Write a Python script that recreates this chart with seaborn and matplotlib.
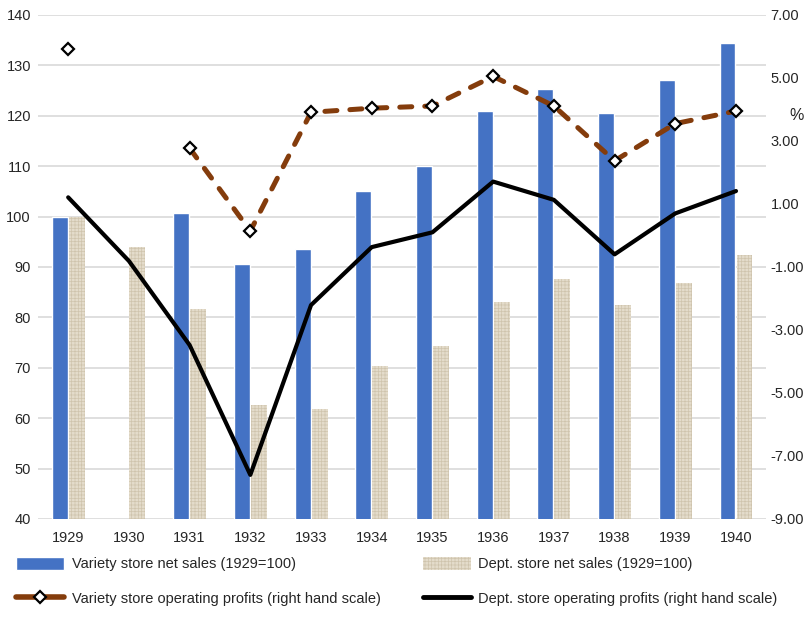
import matplotlib.pyplot as plt
import matplotlib.lines as mlines
import matplotlib.patches as mpatches
import pandas as pd
import seaborn as sns
import numpy as np

years = ["1929", "1930", "1931", "1932", "1933", "1934", "1935", "1936", "1937", "1938", "1939", "1940"]
variety_sales = [100.0, np.nan, 100.7, 90.6, 93.5, 105.1, 110.1, 121.0, 125.3, 120.5, 127.0, 134.4]
dept_sales = [100.0, 94.0, 81.7, 62.6, 61.8, 70.4, 74.3, 83.0, 87.7, 82.5, 86.8, 92.4]
variety_profits = [5.92, np.nan, 2.77, 0.14, 3.91, 4.04, 4.11, 5.05, 4.11, 2.37, 3.55, 3.95]
dept_profits = [1.21, -0.81, -3.48, -7.60, -2.21, -0.37, 0.10, 1.71, 1.13, -0.60, 0.70, 1.41]

lab_vs = "Variety store net sales (1929=100)"
lab_ds = "Dept. store net sales (1929=100)"
lab_vp = "Variety store operating profits (right hand scale)"
lab_dp = "Dept. store operating profits (right hand scale)"

BLUE = "#4472C4"
BEIGE = "#e4dccb"
BROWN = "#843C0C"
TEXTURE = "#cfc4ad"

sns.set_style("white")
plt.rcParams["font.family"] = ["Liberation Sans", "DejaVu Sans"]
plt.rcParams["hatch.color"] = TEXTURE
plt.rcParams["hatch.linewidth"] = 0.5

sales = pd.DataFrame({"Year": years * 2,
                      "Value": variety_sales + dept_sales,
                      "Series": [lab_vs] * len(years) + [lab_ds] * len(years)})

fig = plt.figure(figsize=(8.05, 6.23), dpi=100)
ax = fig.add_axes([0.047, 0.167, 0.905, 0.809])

sns.barplot(data=sales, x="Year", y="Value", hue="Series", ax=ax,
            palette=[BLUE, BEIGE], width=0.56, gap=0.06, legend=False,
            saturation=1)

# linen-like texture on the dept. store bars
for bar in ax.containers[1]:
    bar.set_hatch("+++++")
    bar.set_edgecolor(TEXTURE)
    bar.set_linewidth(0)

ax.set_ylim(40, 140)
ax.set_yticks(range(40, 141, 10))
ax.set_xlim(-0.5, len(years) - 0.5)
ax.set_xlabel("")
ax.set_ylabel("")
ax.yaxis.grid(True, color="#d9d9d9", linewidth=1.2)
ax.set_axisbelow(True)
ax.tick_params(axis="x", length=0, labelsize=10.5, pad=9)
ax.tick_params(axis="y", length=0, labelsize=10.5, pad=5)
for s in ax.spines.values():
    s.set_visible(False)

ax2 = ax.twinx()
pos = np.arange(len(years))
ax2.plot(pos, variety_profits, color=BROWN, linewidth=3.6, linestyle=(0, (2.4, 2.6)),
         dash_capstyle="round", marker="D", markersize=6, markerfacecolor="white",
         markeredgecolor="black", markeredgewidth=1.6, zorder=4)
sns.lineplot(x=pos, y=dept_profits, color="black", linewidth=3.0, ax=ax2, zorder=3)
ax2.set_ylim(-9, 7)
ax2.set_yticks(np.arange(-9, 7.1, 2))
ax2.set_yticklabels([f"{v:.2f}" for v in np.arange(-9, 7.1, 2)])
ax2.tick_params(axis="y", length=0, labelsize=10.5, pad=3)
for s in ax2.spines.values():
    s.set_visible(False)
ax2.text(1.041, 0.80, "%", transform=ax.transAxes, fontsize=11.5, ha="center", va="center")

handles = [
    mpatches.Patch(facecolor=BLUE, label=lab_vs),
    mlines.Line2D([], [], color=BROWN, linewidth=4, marker="D", markersize=6,
                  markerfacecolor="white", markeredgecolor="black", markeredgewidth=1.6,
                  label=lab_vp),
    mpatches.Patch(facecolor=BEIGE, hatch="+++++", edgecolor=TEXTURE, linewidth=0, label=lab_ds),
    mlines.Line2D([], [], color="black", linewidth=3.5, label=lab_dp),
]
fig.legend(handles=handles, loc="lower left", bbox_to_anchor=(0.004, 0.006), ncol=2,
           frameon=False, fontsize=10.5, handlelength=3.3, handleheight=1.0,
           columnspacing=2.9, labelspacing=1.4, handletextpad=0.5)

plt.savefig("out.png", dpi=100)
plt.close()
